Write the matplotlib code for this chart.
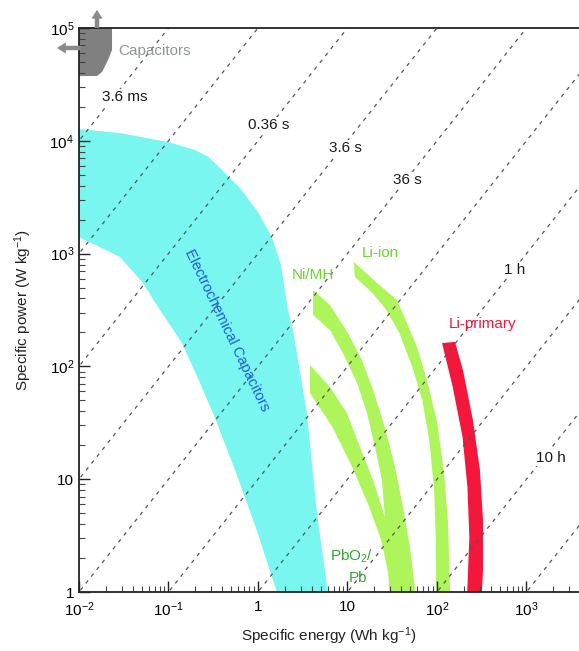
import numpy as np
import matplotlib
matplotlib.use("Agg")
import matplotlib.pyplot as plt
from matplotlib.ticker import FixedLocator, FixedFormatter, LogLocator, NullFormatter

# ---------------- data (Wh/kg, W/kg) ----------------
x_ticks = [1e-2, 1e-1, 1, 10, 1e2, 1e3]
x_tick_labels = [r"$\mathregular{10^{-2}}$", r"$\mathregular{10^{-1}}$", "1", "10",
                 r"$\mathregular{10^{2}}$", r"$\mathregular{10^{3}}$"]
y_ticks = [1, 10, 1e2, 1e3, 1e4, 1e5]
y_tick_labels = ["1", "10", r"$\mathregular{10^{2}}$", r"$\mathregular{10^{3}}$",
                 r"$\mathregular{10^{4}}$", r"$\mathregular{10^{5}}$"]

# constant discharge-time lines (hours)
time_lines_h = [1e-6, 1e-5, 1e-4, 1e-3, 1e-2, 1e-1, 1, 10, 100, 1000]
time_labels = ["3.6 ms", "0.36 s", "3.6 s", "36 s", "1 h", "10 h"]
time_label_E = [0.0327, 1.33, 9.61, 46.2, 745, 1880]
time_label_P = [24400, 13800, 8630, 4490, 716, 15.4]

# conventional capacitors (grey)
cap_E = [0.01, 0.0234, 0.0234, 0.0211, 0.0181, 0.0159, 0.01]
cap_P = [1e5, 1e5, 63800, 52000, 40700, 37500, 37500]

# electrochemical capacitors (cyan)
ec_E = [0.01, 0.0287, 0.0986, 0.198, 0.28, 0.357, 0.629, 1.0, 1.43, 1.81, 2.16, 2.46, 3.52, 4.56, 6.05,
        1.63, 0.925, 0.553, 0.331, 0.225, 0.142, 0.0804, 0.0519, 0.0287, 0.0211, 0.01]
ec_P = [12700, 11700, 9760, 8290, 7200, 5980, 3820, 2340, 1400, 792, 316, 210, 38.6, 5.0, 1.0,
        1.0, 3.93, 12.1, 34.9, 71.3, 161, 316, 549, 933, 1055, 1400]

# Ni/MH + PbO2/Pb (green, joined)
nimh_pb_E = [3.81, 3.81, 6.37, 9.87, 13.8, 19.3, 26.2, 24.3, 20.3, 16.5, 12.8, 8.91, 6.37, 4.12,
             4.12, 6.37, 10.1, 14.5, 19.3, 26.2, 34.0, 41.7, 49.9, 57.5, 29.5, 28.5, 23.8, 17.5,
             11.3, 6.8]
nimh_pb_P = [58.1, 103, 65.7, 38.6, 19.3, 9.84, 4.62, 9.84, 19.3, 38.6, 71.3, 131, 210, 286,
             476, 350, 198, 114, 61.8, 29.0, 12.8, 5.67, 2.51, 1.0, 1.0, 1.47, 2.89, 5.67,
             12.8, 29.0]

# Li-ion (green)
liion_E = [11.8, 21.4, 35.7, 46.2, 59.8, 77.3, 101, 120, 133, 140,
           98, 97, 93, 82, 68.5, 53.0, 38.0, 27.2, 19.0, 12.1]
liion_P = [843, 549, 388, 243, 149, 75.7, 31.5, 11.4, 4.09, 1.0,
           1.0, 2.89, 8.02, 22.3, 50.4, 98.8, 198, 316, 448, 621]

# Li-primary (red)
liprim_E = [114, 159, 195, 252, 302, 327, 327, 318, 218, 230, 219, 193, 150]
liprim_P = [161, 165, 92.9, 33.5, 12.1, 4.35, 1.57, 1.0, 1.0, 3.07, 8.53, 23.7, 65.7]

# ---------------- style ----------------
plt.rcParams["font.family"] = ["Liberation Sans", "DejaVu Sans"]
plt.rcParams["mathtext.fontset"] = "custom"
plt.rcParams["mathtext.rm"] = "Liberation Sans"
plt.rcParams["mathtext.it"] = "Liberation Sans:italic"
plt.rcParams["mathtext.bf"] = "Liberation Sans:bold"

CYAN = "#78f6ef"
GREEN = "#aef55c"
RED = "#f2173b"
GREY = "#808080"

fig = plt.figure(figsize=(5.79, 6.51), dpi=100)
ax = fig.add_axes([0.1364, 0.0906, 0.8636, 0.8664])
ax.set_xscale("log")
ax.set_yscale("log")
ax.set_xlim(1e-2, 10 ** 3.587)
ax.set_ylim(1, 1e5)

# regions
ax.fill(cap_E, cap_P, color=GREY, lw=0, zorder=1)
ax.fill(ec_E, ec_P, color=CYAN, lw=0, zorder=1)
ax.fill(nimh_pb_E, nimh_pb_P, color=GREEN, lw=0, zorder=1)
ax.fill(liion_E, liion_P, color=GREEN, lw=0, zorder=1)
ax.fill(liprim_E, liprim_P, color=RED, lw=0, zorder=1)

# time lines
E_line = np.logspace(-3, 5, 100)
for t in time_lines_h:
    ax.plot(E_line, E_line / t, color="#555555", lw=0.9, dashes=(3, 4), zorder=2)

for s, e, p in zip(time_labels, time_label_E, time_label_P):
    ax.text(e, p, s, fontsize=11, color="#1a1a1a", ha="center", va="center", zorder=4,
            bbox=dict(fc="white", ec="none", pad=1.0))

# arrows for conventional capacitors
arrow_kw = dict(arrowstyle="simple,head_length=0.8,head_width=1.0,tail_width=0.4",
                fc="#8a8a8a", ec="none", shrinkA=0, shrinkB=0, mutation_scale=8)
ax.annotate("", xy=(0.0159, 1.45e5), xytext=(0.0159, 1e5), arrowprops=arrow_kw,
            annotation_clip=False, zorder=5)
ax.annotate("", xy=(0.00567, 66500), xytext=(0.0105, 66500), arrowprops=arrow_kw,
            annotation_clip=False, zorder=5)

# labels
ax.text(0.0706, 62500, "Capacitors", fontsize=11, color="#8e9696", ha="center", va="center", zorder=4)
ax.text(0.451, 210, "Electrochemical Capacitors", fontsize=10.5, color="#1f5cd8",
        ha="center", va="center", rotation=-64.3, rotation_mode="anchor", zorder=4)
ax.text(4.12, 646, "Ni/MH", fontsize=11, color="#66d92a", ha="center", va="center", zorder=4)
ax.text(23.1, 1012, "Li-ion", fontsize=11, color="#66d92a", ha="center", va="center", zorder=4)
ax.text(327, 238, "Li-primary", fontsize=11, color=RED, ha="center", va="center", zorder=4)
ax.text(11.2, 2.08, r"PbO$_\mathregular{2}$/", fontsize=11, color="#33a833", ha="center", va="center", zorder=4)
ax.text(13.1, 1.33, "Pb", fontsize=11, color="#33a833", ha="center", va="center", zorder=4)

# axes formatting
ax.xaxis.set_major_locator(FixedLocator(x_ticks))
ax.xaxis.set_major_formatter(FixedFormatter(x_tick_labels))
ax.yaxis.set_major_locator(FixedLocator(y_ticks))
ax.yaxis.set_major_formatter(FixedFormatter(y_tick_labels))
ax.xaxis.set_minor_locator(LogLocator(base=10, subs=np.arange(2, 10), numticks=20))
ax.yaxis.set_minor_locator(LogLocator(base=10, subs=np.arange(2, 10), numticks=20))
ax.xaxis.set_minor_formatter(NullFormatter())
ax.yaxis.set_minor_formatter(NullFormatter())
ax.tick_params(which="major", direction="in", length=8, width=1.0, labelsize=11,
               top=False, right=False, color="#222222")
ax.tick_params(which="minor", direction="in", length=4, width=0.8,
               top=False, right=False, color="#444444")
ax.tick_params(axis="x", which="major", pad=6)

for side in ["left", "bottom", "top"]:
    ax.spines[side].set_linewidth(1.3)
    ax.spines[side].set_color("#222222")
ax.spines["right"].set_visible(False)

ax.set_xlabel(r"Specific energy (Wh kg$^{\mathregular{-1}}$)", fontsize=11, labelpad=5, color="#222222")
ax.set_ylabel(r"Specific power (W kg$^{\mathregular{-1}}$)", fontsize=11, labelpad=11, color="#222222")

fig.savefig("out.png", dpi=100)
